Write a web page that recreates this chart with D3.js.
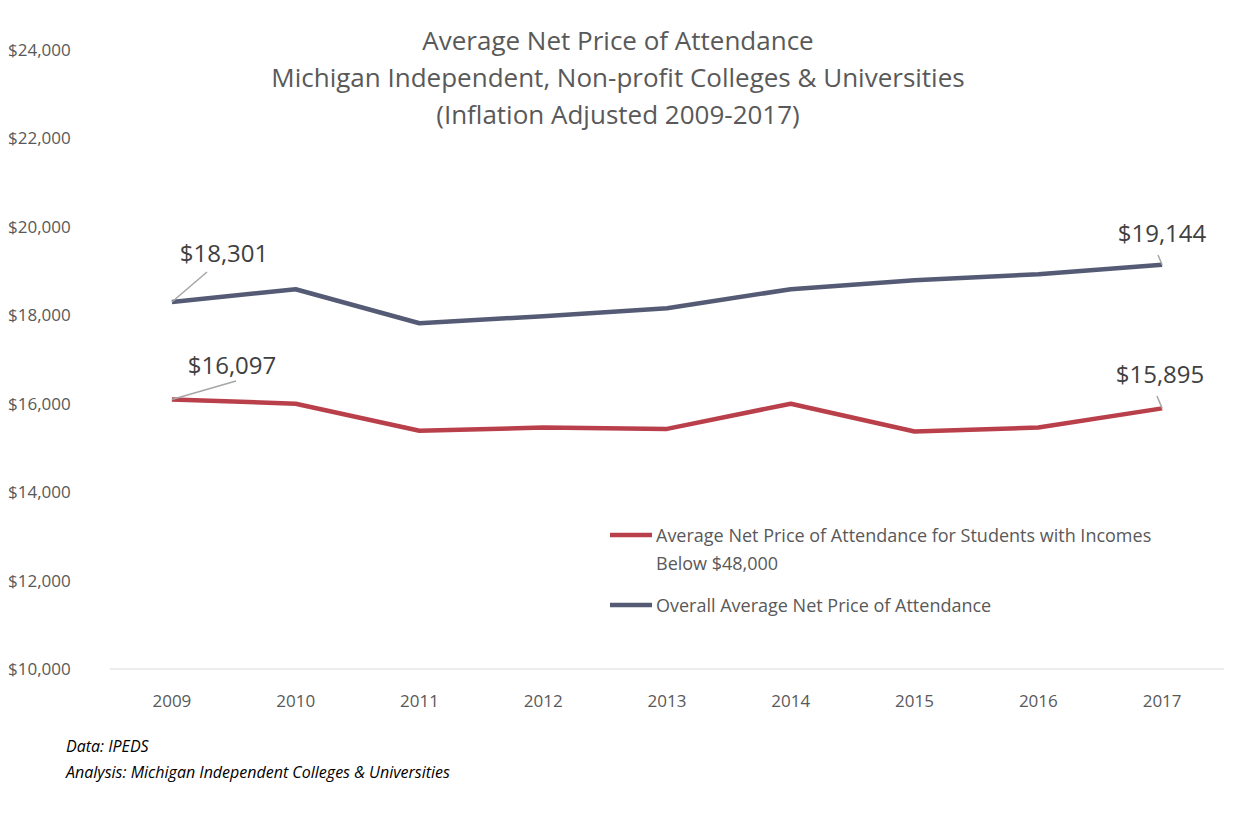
<!DOCTYPE html>
<html><head><meta charset="utf-8">
<script src="https://cdn.jsdelivr.net/npm/d3@7"></script>
<style>body{margin:0;background:#fff;font-family:"Open Sans","Liberation Sans",sans-serif;}</style>
</head><body><svg id="c" width="1237" height="820"></svg>
<script>
const years=["2009","2010","2011","2012","2013","2014","2015","2016","2017"];
const overall=[18301,18588,17820,17980,18160,18590,18790,18930,19144];
const lowIncome=[16097,16000,15390,15460,15430,16000,15370,15460,15895];
const yTicks=[10000,12000,14000,16000,18000,20000,22000,24000];
const titleLines=["Average Net Price of Attendance","Michigan Independent,  Non-profit  Colleges & Universities","(Inflation Adjusted 2009-2017)"];
const legendLow=["Average Net Price of Attendance for Students with Incomes","Below $48,000"];
const legendOverall="Overall Average Net Price of Attendance";
const notes=["Data: IPEDS","Analysis: Michigan Independent Colleges & Universities"];

const svg=d3.select("#c");
const x=d3.scaleBand().domain(years).range([110,1224]);
const y=d3.scaleLinear().domain([10000,24000]).range([669,50]);
const cx=d=>x(d)+x.bandwidth()/2;
const grey="#595959";
const fmt=d3.format("$,");

svg.selectAll(".yt").data(yTicks).enter().append("text")
 .attr("x",8).attr("y",d=>y(d)+6).attr("font-size",17).attr("fill",grey).text(d=>fmt(d));
svg.append("line").attr("x1",110).attr("x2",1224).attr("y1",y(10000)).attr("y2",y(10000)).attr("stroke","#d9d9d9");
svg.selectAll(".xt").data(years).enter().append("text")
 .attr("x",d=>cx(d)).attr("y",707).attr("text-anchor","middle").attr("font-size",17).attr("fill",grey).text(d=>d);

svg.selectAll(".t").data(titleLines).enter().append("text")
 .attr("x",618).attr("y",(d,i)=>50+i*37).attr("text-anchor","middle").attr("font-size",26).attr("fill",grey).text(d=>d);

const line=d3.line().x((d,i)=>cx(years[i])).y(d=>y(d));
const series=[{v:overall,c:"#555B75"},{v:lowIncome,c:"#B9404A"}];
series.forEach(s=>svg.append("path").datum(s.v).attr("d",line).attr("fill","none").attr("stroke",s.c).attr("stroke-width",4.5).attr("stroke-linejoin","round"));

function label(vals,i,lx,ly,anchor,leader){
  const px=cx(years[i]),py=y(vals[i]);
  svg.append("line").attr("x1",px).attr("y1",py).attr("x2",leader[0]).attr("y2",leader[1]).attr("stroke","#a6a6a6").attr("stroke-width",1.5);
  svg.append("text").attr("x",lx).attr("y",ly).attr("text-anchor",anchor).attr("font-size",24).attr("fill","#404040").text(fmt(vals[i]));
}
label(overall,0,224,262,"middle",[207,272]);
label(overall,8,1162,242,"middle",[1158,255]);
label(lowIncome,0,232,374,"middle",[236,381]);
label(lowIncome,8,1160,383,"middle",[1157,396]);

svg.append("line").attr("x1",610).attr("x2",652).attr("y1",535).attr("y2",535).attr("stroke","#B9404A").attr("stroke-width",4.5);
svg.selectAll(".l1").data(legendLow).enter().append("text").attr("x",656).attr("y",(d,i)=>542+i*28).attr("font-size",18).attr("fill",grey).text(d=>d);
svg.append("line").attr("x1",610).attr("x2",652).attr("y1",605).attr("y2",605).attr("stroke","#555B75").attr("stroke-width",4.5);
svg.append("text").attr("x",656).attr("y",612).attr("font-size",18).attr("fill",grey).text(legendOverall);

svg.selectAll(".n").data(notes).enter().append("text").attr("x",66).attr("y",(d,i)=>752+i*26)
 .attr("font-size",16).attr("font-style","italic").attr("fill","#000").text(d=>d);
</script></body></html>
